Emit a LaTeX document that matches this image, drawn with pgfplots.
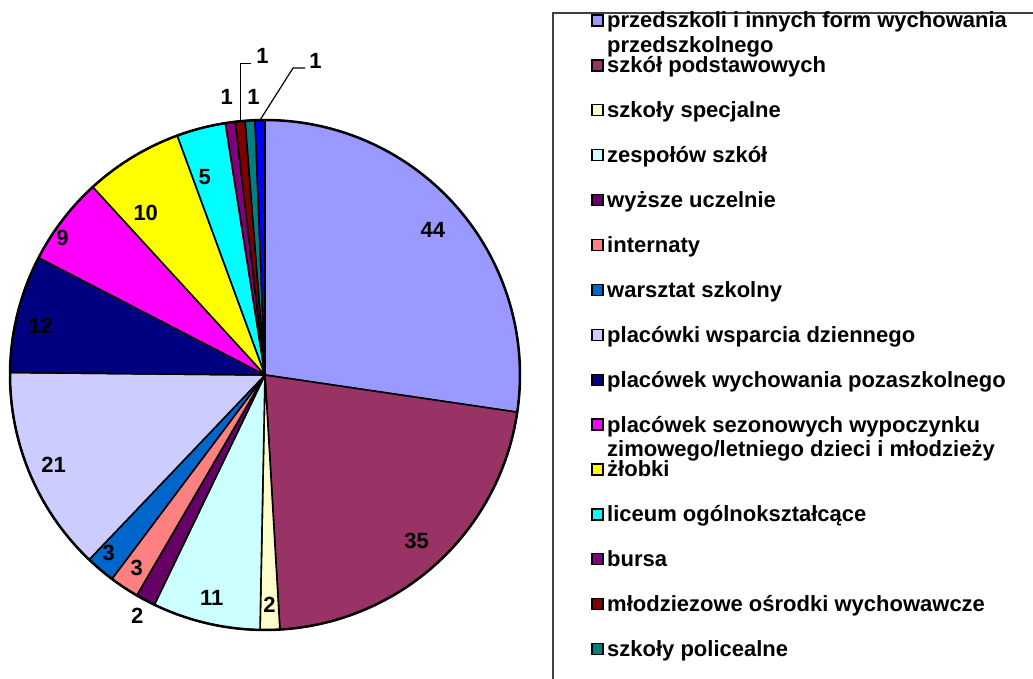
\documentclass[border=0pt]{standalone}
\usepackage{pgfplots}
\usepackage{pgfplotstable}
\pgfplotsset{compat=1.18}
\usepackage{fontspec}
\setmainfont{Liberation Sans}
\definecolor{c1}{HTML}{9999FF}
\definecolor{c2}{HTML}{993366}
\definecolor{c3}{HTML}{FFFFCC}
\definecolor{c4}{HTML}{CCFFFF}
\definecolor{c5}{HTML}{660066}
\definecolor{c6}{HTML}{FF8080}
\definecolor{c7}{HTML}{0066CC}
\definecolor{c8}{HTML}{CCCCFF}
\definecolor{c9}{HTML}{000080}
\definecolor{c10}{HTML}{FF00FF}
\definecolor{c11}{HTML}{FFFF00}
\definecolor{c12}{HTML}{00FFFF}
\definecolor{c13}{HTML}{800080}
\definecolor{c14}{HTML}{800000}
\definecolor{c15}{HTML}{008080}
\definecolor{c16}{HTML}{0000FF}
\newcommand\lf{\fontsize{22}{26}\selectfont\bfseries}
\pgfplotstableread{
val col lr da
44 c1 0.87 0
35 c2 0.88 0
2 c3 0.90 0
11 c4 0.90 0
2 c5 1.07 0
3 c6 0.91 0
3 c7 0.93 -1
21 c8 0.90 0
12 c9 0.90 1.5
9 c10 0.96 3.3
10 c11 0.79 5
5 c12 0.81 2.4
1 c13 1.10 0
1 c14 0 0
1 c15 1.09 -1
1 c16 0 0
}\piedata
\begin{document}
\begin{tikzpicture}
\path[use as bounding box] (0pt,0pt) rectangle (1033pt,679pt);
\clip (0pt,0pt) rectangle (1033pt,679pt);
\begin{axis}[at={(265pt,304pt)}, anchor=center, scale only axis, width=510pt, height=510pt,
  xmin=-1, xmax=1, ymin=-1, ymax=1, hide axis, clip=false]
\pgfmathsetmacro\total{0}
\pgfplotsforeachungrouped \i in {0,...,15}{%
  \pgfplotstablegetelem{\i}{val}\of\piedata
  \pgfmathsetmacro\total{\total+\pgfplotsretval}
}
\pgfmathsetmacro\astart{90}
\pgfplotsforeachungrouped \i in {0,...,15}{%
  \pgfplotstablegetelem{\i}{val}\of\piedata \let\v\pgfplotsretval
  \pgfplotstablegetelem{\i}{col}\of\piedata \let\c\pgfplotsretval
  \pgfplotstablegetelem{\i}{lr}\of\piedata \let\r\pgfplotsretval
  \pgfplotstablegetelem{\i}{da}\of\piedata \let\da\pgfplotsretval
  \pgfmathsetmacro\aend{\astart-360*\v/\total}
  \pgfmathsetmacro\amid{(\astart+\aend)/2}
  \expandafter\xdef\csname mid\i\endcsname{\amid}
  \edef\tmp{\noexpand\addplot[fill=\c, draw=black, line width=1.6pt, line join=round, mark=none, domain=\aend:\astart, samples=60] ({cos(x)},{sin(x)}) -- (axis cs:0,0) -- cycle;}
  \tmp
  \ifdim\r pt>0pt
    \pgfmathsetmacro\lx{\r*cos(\amid+\da)}
    \pgfmathsetmacro\ly{\r*sin(\amid+\da)}
    \edef\tmp{\noexpand\node[font=\noexpand\lf] at (axis cs:\lx,\ly) {\v};}
    \tmp
  \fi
  \global\let\astart\aend
}
\addplot[draw=black, line width=2.5pt, mark=none, domain=0:360, samples=240] ({cos(x)},{sin(x)});
\pgfmathsetmacro\ma{\csname mid13\endcsname}
\pgfmathsetmacro\mb{\csname mid15\endcsname}
\pgfmathsetmacro\ax{cos(\ma)}\pgfmathsetmacro\ay{sin(\ma)}
\pgfmathsetmacro\bx{cos(\mb)}\pgfmathsetmacro\by{sin(\mb)}
\edef\tmp{\noexpand\draw[line width=1.2pt] (axis cs:\ax,\ay) -- (axis cs:\ax,1.22) -- (axis cs:-0.055,1.22);
  \noexpand\node[font=\noexpand\lf] at (axis cs:-0.01,1.25) {1};
  \noexpand\draw[line width=1.2pt] (axis cs:\bx,\by) -- (axis cs:0.11,1.204) -- (axis cs:0.157,1.204);
  \noexpand\node[font=\noexpand\lf] at (axis cs:0.198,1.23) {1};}
\tmp
\end{axis}
\draw[line width=1.2pt, black!75] (553pt,-20pt) rectangle (1060pt,666pt);
\foreach \i/\t in {0/{przedszkoli i innych form wychowania},1/{szkół podstawowych},2/{szkoły specjalne},3/{zespołów szkół},4/{wyższe uczelnie},5/{internaty},6/{warsztat szkolny},7/{placówki wsparcia dziennego},8/{placówek wychowania pozaszkolnego},9/{placówek sezonowych wypoczynku},10/{żłobki},11/{liceum ogólnokształcące},12/{bursa},13/{młodziezowe ośrodki wychowawcze},14/{szkoły policealne}}{
  \pgfmathsetmacro\yb{679-28-44.9*\i}
  \pgfmathsetmacro\ya{\yb+2}
  \pgfmathsetmacro\yc{\yb+13}
  \pgfmathtruncatemacro\j{\i+1}
  \filldraw[fill=c\j, draw=black, line width=1.3pt] (592pt,\ya pt) rectangle (603pt,\yc pt);
  \node[anchor=base west, inner sep=0pt, font=\lf] at (607pt,\yb pt) {\t};
}
\node[anchor=base west, inner sep=0pt, font=\lf] at (607pt,626pt) {przedszkolnego};
\node[anchor=base west, inner sep=0pt, font=\lf] at (607pt,222pt) {zimowego/letniego dzieci i młodzieży};
\end{tikzpicture}
\end{document}
